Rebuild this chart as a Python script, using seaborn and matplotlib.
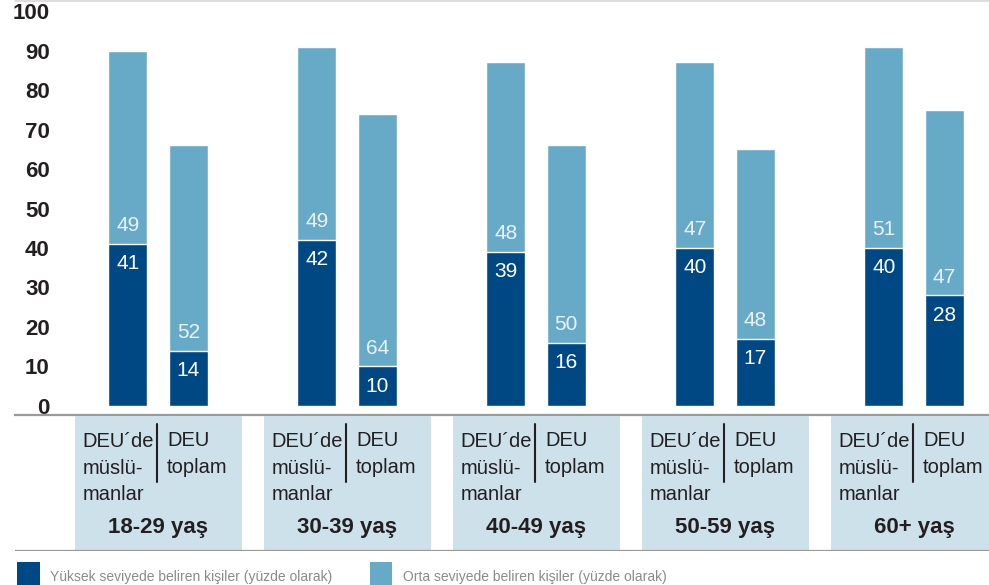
import matplotlib

matplotlib.use("Agg")

import matplotlib.pyplot as plt
import pandas as pd
import seaborn as sns
from matplotlib.lines import Line2D
from matplotlib.patches import Rectangle

# values
age_groups = ["18-29 yaş", "30-39 yaş", "40-49 yaş", "50-59 yaş", "60+ yaş"]
muslim_high = [41, 42, 39, 40, 40]
muslim_mid = [49, 49, 48, 47, 51]
total_high = [14, 10, 16, 17, 28]
total_mid = [52, 64, 50, 48, 47]
bar_names = ["DEU´de\nmüslü-\nmanlar", "DEU\ntoplam"]
legend_labels = [
    "Yüksek seviyede beliren kişiler (yüzde olarak)",
    "Orta seviyede beliren kişiler (yüzde olarak)",
]
yticks = list(range(0, 101, 10))

DARK = "#004883"
LIGHT = "#67aac8"
BAND = "#cde1eb"
GRID = "#9a9a9a"
TEXT = "#231f20"

sns.set_theme(style="white")
plt.rcParams["font.family"] = ["Liberation Sans", "DejaVu Sans"]

W, H = 989, 585
fig = plt.figure(figsize=(W / 100, H / 100), dpi=100)


def fx(px):
    return px / W


def fy(py):
    return 1 - py / H


df = pd.DataFrame(
    {
        "age": age_groups * 2,
        "group": ["muslim"] * 5 + ["total"] * 5,
        "high": muslim_high + total_high,
        "mid": muslim_mid + total_mid,
    }
)
df["sum"] = df["high"] + df["mid"]

# main bar axes
ax = fig.add_axes([fx(15), fy(415), fx(989) - fx(15), fy(2) - fy(415)])
common = dict(
    data=df, x="age", hue="group", width=0.64, gap=0.36, legend=False,
    errorbar=None, saturation=1, ax=ax,
)
sns.barplot(y="sum", palette=[LIGHT, LIGHT], **common)
sns.barplot(y="high", palette=[DARK, DARK], **common)

ax.set_xlim(-0.757, 4.397)
ax.set_ylim(-2.28, 102.28)
ax.set_xticks([])
ax.set_xlabel("")
ax.set_ylabel("")
ax.set_yticks(yticks)
ax.set_yticklabels([str(t) for t in yticks], fontsize=16, fontweight="bold", color=TEXT)
ax.tick_params(axis="y", length=0, pad=-25)
for side in ["left", "right", "top"]:
    ax.spines[side].set_visible(False)
ax.spines["bottom"].set_color(GRID)
ax.spines["bottom"].set_linewidth(1.6)

for i in range(len(age_groups)):
    for off, hi, mi in [(-0.16, muslim_high[i], muslim_mid[i]), (0.16, total_high[i], total_mid[i])]:
        ax.text(i + off, hi - 5, str(hi), ha="center", va="center", color="white", fontsize=15)
        ax.text(i + off, hi + 4.6, str(mi), ha="center", va="center", color="#eaf2f7", fontsize=15)

# category band below the bars
bx = fig.add_axes([fx(15), fy(551), fx(989) - fx(15), fy(415) - fy(551)])
bx.set_xlim(ax.get_xlim())
bx.set_ylim(0, 1)
bx.axis("off")
bx.axhline(0, color=GRID, lw=1.6)
for i, age in enumerate(age_groups):
    bx.add_patch(Rectangle((i - 0.44, 0.01), 0.884, 0.98, color=BAND, lw=0))
    bx.text(i - 0.398, 0.61, bar_names[0], ha="left", va="center", fontsize=14.5,
            color=TEXT, linespacing=1.5)
    bx.text(i + 0.048, 0.713, bar_names[1], ha="left", va="center", fontsize=14.5,
            color=TEXT, linespacing=1.5)
    bx.plot([i - 0.004, i - 0.004], [0.507, 0.934], color=TEXT, lw=1.5)
    bx.text(i, 0.176, age, ha="center", va="center", fontsize=16, fontweight="bold", color=TEXT)

# thin line on top
fig.add_artist(Line2D([fx(15), 1], [fy(1), fy(1)], color="#d8d8d8", lw=1.2))

# legend
for (x0, x1, tx), col, lab in zip([(17, 40, 50), (370, 392, 403)], [DARK, LIGHT], legend_labels):
    fig.add_artist(Rectangle((fx(x0), 0), fx(x1) - fx(x0), fy(562), color=col, lw=0))
    fig.text(fx(tx), fy(577), lab, ha="left", va="center", fontsize=10, color="#8a8a8a")

fig.savefig("out.png", dpi=100)
